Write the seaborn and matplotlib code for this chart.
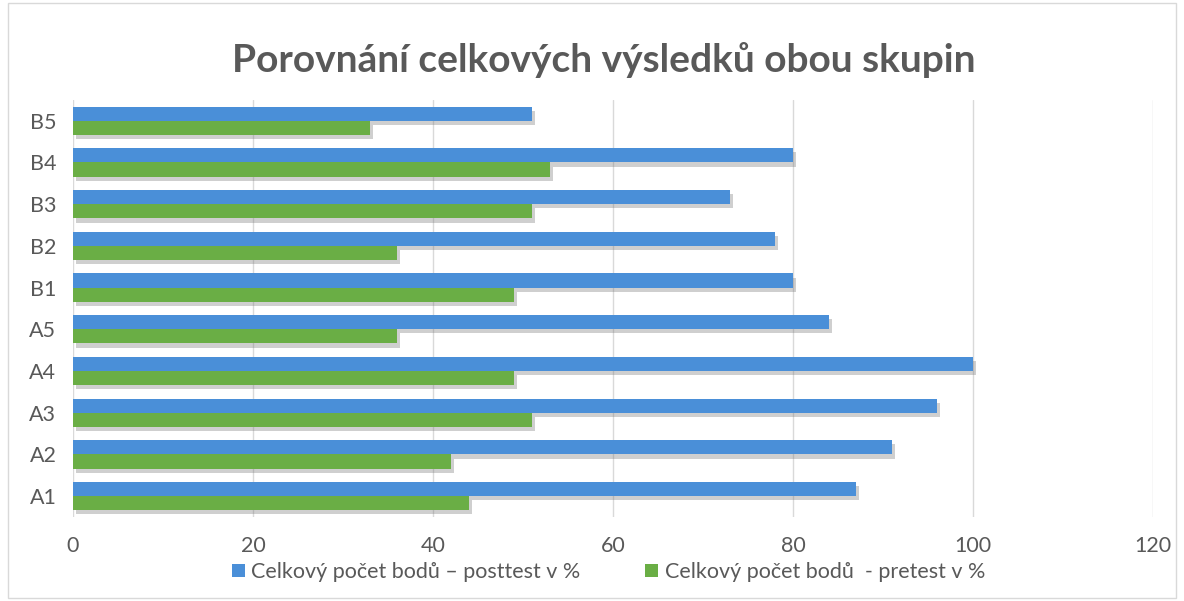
import pandas as pd
import seaborn as sns
import matplotlib.pyplot as plt
import matplotlib.patheffects as pe

# data
groups = ["B5", "B4", "B3", "B2", "B1", "A5", "A4", "A3", "A2", "A1"]
posttest = [51, 80, 73, 78, 80, 84, 100, 96, 91, 87]
pretest = [33, 53, 51, 36, 49, 36, 49, 51, 42, 44]
series_names = ["Celkový počet bodů – posttest v %", "Celkový počet bodů  - pretest v %"]
colors = ["#4A8FD8", "#6AAE45"]

df = pd.DataFrame({
    "skupina": groups * 2,
    "hodnota": posttest + pretest,
    "serie": [series_names[0]] * len(groups) + [series_names[1]] * len(groups),
})

sns.set_style("white")
plt.rcParams["font.family"] = ["Lato", "DejaVu Sans"]

fig = plt.figure(figsize=(11.84, 6.01), dpi=100)
ax = fig.add_axes([0.0617, 0.1398, 0.912, 0.694])

sns.barplot(data=df, y="skupina", x="hodnota", hue="serie", order=groups,
            hue_order=series_names, palette=colors, orient="h", width=0.68,
            saturation=1, linewidth=0, ax=ax)

ax.set_xlim(0, 120)
ax.set_xticks(range(0, 121, 20))
ax.set_xlabel("")
ax.set_ylabel("")
ax.grid(axis="x", color="#D9D9D9", linewidth=1)
ax.set_axisbelow(True)
for s in ax.spines.values():
    s.set_visible(False)
ax.tick_params(axis="both", length=0, labelsize=15.5, labelcolor="#595959")
ax.tick_params(axis="x", pad=14)
ax.tick_params(axis="y", pad=12)

fig.suptitle("Porovnání celkových výsledků obou skupin", x=0.51, y=0.93,
             fontsize=28, fontweight="bold", color="#595959")

ax.legend_.remove()
handles, labels = ax.get_legend_handles_labels()
fig.legend(handles, labels, loc="center", bbox_to_anchor=(0.514, 0.048), ncol=2,
           frameon=False, fontsize=15.5, labelcolor="#595959", handlelength=0.6,
           handleheight=0.6, handletextpad=0.3, columnspacing=3)

# soft drop shadow under the bars only
for bar in ax.patches:
    bar.set_edgecolor("none")
    bar.set_path_effects([pe.SimplePatchShadow(offset=(2, -3), shadow_rgbFace="#777777", alpha=0.35),
                          pe.Normal()])

fig.patches.append(plt.Rectangle((0.007, 0.005), 0.986, 0.99, transform=fig.transFigure,
                                 fill=False, edgecolor="#D9D9D9", linewidth=1))

fig.savefig("out.png", dpi=100)
